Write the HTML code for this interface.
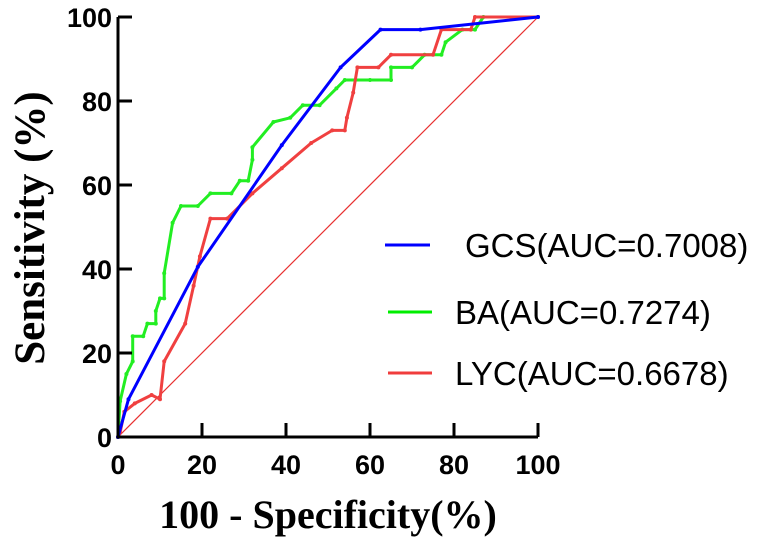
<!DOCTYPE html>
<html><head><meta charset="utf-8"><style>
html,body{margin:0;padding:0;background:#fff;}
svg{display:block;}
.tick{font-family:"Liberation Sans",Arial,sans-serif;font-weight:bold;font-size:27px;fill:#000;}
.title{font-family:"Liberation Serif",serif;font-weight:bold;font-size:40px;fill:#000;}
.leg{font-family:"Liberation Sans",Arial,sans-serif;font-size:33px;fill:#000;}
</style></head><body>
<svg id="chart" width="768" height="544" viewBox="0 0 768 544">
<g id="plot"></g>
<text class="title" x="328" y="528" text-anchor="middle">100 - Specificity(%)</text>
<text class="title" transform="translate(44,228) rotate(-90)" text-anchor="middle" style="font-size:43px">Sensitivity (%)</text>
<g>
<g><line x1="385" y1="245" x2="430" y2="245" stroke="#0000ff" stroke-width="3"/><text class="leg" x="465" y="257">GCS(AUC=0.7008)</text></g>
<g><line x1="388" y1="312" x2="432" y2="312" stroke="#00ee00" stroke-width="3"/><text class="leg" x="455" y="324">BA(AUC=0.7274)</text></g>
<g><line x1="388" y1="373" x2="432" y2="373" stroke="#f03c3c" stroke-width="3"/><text class="leg" x="455" y="385">LYC(AUC=0.6678)</text></g>
</g>
</svg>
<script>
const xTicks=[0,20,40,60,80,100];
const yTicks=[0,20,40,60,80,100];
const gcsX=[0,2.5,19,39,53,62.5,72,100];
const gcsY=[0,9,40.5,69.5,88,97,97,100];
const baX=[0,0.5,2,3.5,3.5,6,7,9,9,10,11,11,13,15,19,22,27,29,31,32,32,37,41,44,48,52,54,60,65,65,70,73,77,78,82,85,87,100];
const baY=[0,8.5,15,18,24,24,27,27,30,33,33,39,51,55,55,58,58,61,61,66,69,75,76,79,79,83,85,85,85,88,88,91,91,94,97,97,100,100];
const lycX=[0,0.5,1.5,4,8,10,11,16,18,19.5,22,26,32,39,46,51,54,54.5,56,57,62,65,75,77,84,85,100];
const lycY=[0,1,6,8,10,9,18,27,36,43,52,52,58,64,70,73,73,76,82,88,88,91,91,97,97,100,100];
const NS='http://www.w3.org/2000/svg';
const g=document.getElementById('plot');
const X=v=>118+v*4.2;
const Y=v=>437-v*4.2;
function mk(t,a){const e=document.createElementNS(NS,t);for(const k in a)e.setAttribute(k,a[k]);g.appendChild(e);return e;}
const d=mk('line',{x1:X(0),y1:Y(0),x2:X(100),y2:Y(100),stroke:'#e83030','stroke-width':1.2});


function series(xs,ys,color,name){
  const p=mk('polyline',{points:xs.map((x,i)=>X(x)+','+Y(ys[i])).join(' '),fill:'none',stroke:color,'stroke-width':3,'stroke-linejoin':'round'});
  
  
  xs.forEach((x,i)=>{const c=mk('circle',{cx:X(x),cy:Y(ys[i]),r:2,fill:color});
    
    });
}
series(baX,baY,'#22ee22','ba-curve');
series(lycX,lycY,'#f04040','lyc-curve');
series(gcsX,gcsY,'#0000ff','gcs-curve');
const ax=mk('path',{d:`M${X(0)},${Y(100)} V${Y(0)} H${X(100)}`,fill:'none',stroke:'#000','stroke-width':3});


xTicks.forEach(v=>{
  const t=mk('line',{x1:X(v),y1:Y(0),x2:X(v),y2:Y(0)-14,stroke:'#000','stroke-width':3});
  
  
  const l=mk('text',{x:X(v),y:474,'text-anchor':'middle',class:'tick'});l.textContent=v;
  
  
});
yTicks.forEach(v=>{
  const t=mk('line',{x1:X(0),y1:Y(v),x2:X(0)+14,y2:Y(v),stroke:'#000','stroke-width':3});
  
  
  const l=mk('text',{x:112,y:Y(v)+10,'text-anchor':'end',class:'tick'});l.textContent=v;
  
  
});
</script>
</body></html>
